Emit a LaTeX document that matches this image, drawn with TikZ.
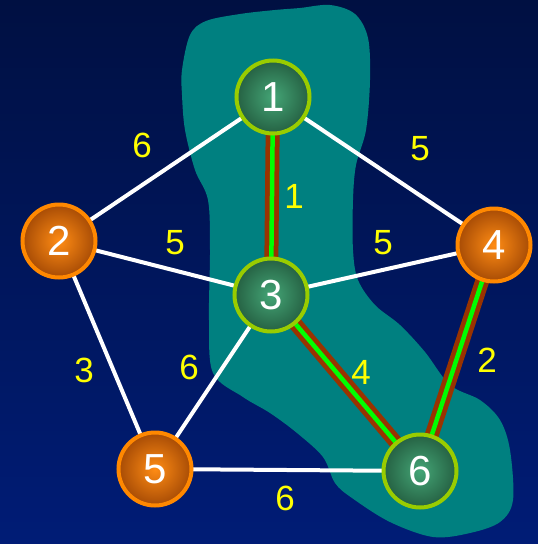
\documentclass[tikz,border=0pt]{standalone}
\usepackage{fontspec}
\setmainfont{Liberation Sans}
\definecolor{bgtop}{RGB}{0,16,66}
\definecolor{bgbot}{RGB}{0,28,118}
\definecolor{blob}{RGB}{0,128,128}
\definecolor{gborder}{RGB}{153,204,0}
\definecolor{ginner}{RGB}{68,165,118}
\definecolor{gouter}{RGB}{26,72,48}
\definecolor{oborder}{RGB}{255,136,0}
\definecolor{oinner}{RGB}{255,140,20}
\definecolor{oouter}{RGB}{135,52,0}
\definecolor{mstbrown}{RGB}{153,51,0}
\definecolor{mstgreen}{RGB}{0,255,0}
\definecolor{lbl}{RGB}{255,255,0}
\pgfdeclareradialshading{gglow}{\pgfpoint{0bp}{0bp}}{color(0bp)=(ginner); color(34bp)=(gouter); color(50bp)=(gouter)}
\pgfdeclareradialshading{oglow}{\pgfpoint{0bp}{0bp}}{color(0bp)=(oinner); color(34bp)=(oouter); color(50bp)=(oouter)}
\tikzset{
  vbase/.style={circle, minimum size=73pt, inner sep=0pt, line width=4pt, text=white, font=\fontsize{42}{42}\selectfont},
  gnode/.style={vbase, draw=gborder, shading=gglow},
  onode/.style={vbase, draw=oborder, shading=oglow},
  wedge/.style={draw=white, line width=4pt},
  mstback/.style={draw=mstbrown, line width=14pt},
  mstfront/.style={draw=mstgreen, line width=4.5pt},
  elabel/.style={text=lbl, inner sep=0pt, font=\fontsize{35}{35}\selectfont}
}
\begin{document}
\begin{tikzpicture}[x=1pt, y=-1pt]
\useasboundingbox (0,0) rectangle (538,544);
\shade[top color=bgtop, bottom color=bgbot] (0,0) rectangle (538,544);
% teal region
\fill[blob] plot[smooth cycle, tension=0.55] coordinates {
 (182,70) (190,35) (206,21) (240,14) (275,10) (300,8) (330,5) (355,14) (368,38)
 (370,80) (366,130) (356,165) (353,200) (353,250) (358,280) (375,305) (400,325)
 (425,352) (450,385) (480,400) (500,420) (510,450) (513,500) (500,522) (470,533)
 (433,537) (390,522) (352,498) (335,483) (323,457) (297,433) (270,413) (243,397)
 (213,373) (209,320) (210,250) (208,200) (195,170) (185,130) (182,95)};
% node coordinates
\coordinate (p1) at (273,97);
\coordinate (p2) at (59,241);
\coordinate (p3) at (271,295);
\coordinate (p4) at (494,245);
\coordinate (p5) at (155,469);
\coordinate (p6) at (420,471);
% edges
\draw[wedge] (p1) -- (p2);
\draw[wedge] (p1) -- (p4);
\draw[wedge] (p2) -- (p3);
\draw[wedge] (p3) -- (p4);
\draw[wedge] (p2) -- (p5);
\draw[wedge] (p3) -- (p5);
\draw[wedge] (p5) -- (p6);
\draw[mstback] (p1) -- (p3);
\draw[mstback] (p3) -- (p6);
\draw[mstback] (p4) -- (p6);
\draw[mstfront] (p1) -- (p3);
\draw[mstfront] (p3) -- (p6);
\draw[mstfront] (p4) -- (p6);
% nodes
\node[gnode] (n1) at (p1) {1};
\node[onode] (n2) at (p2) {2};
\node[gnode] (n3) at (p3) {3};
\node[onode] (n4) at (p4) {4};
\node[onode] (n5) at (p5) {5};
\node[gnode] (n6) at (p6) {6};
% edge labels
\node[elabel] (l12) at (142,145) {6};
\node[elabel] (l14) at (420,149) {5};
\node[elabel] (l13) at (294,196) {1};
\node[elabel] (l23) at (175,243) {5};
\node[elabel] (l34) at (383,243) {5};
\node[elabel] (l25) at (84,370) {3};
\node[elabel] (l35) at (189,367) {6};
\node[elabel] (l36) at (361,372) {4};
\node[elabel] (l46) at (487,360) {2};
\node[elabel] (l56) at (285,498) {6};
\end{tikzpicture}
\end{document}
